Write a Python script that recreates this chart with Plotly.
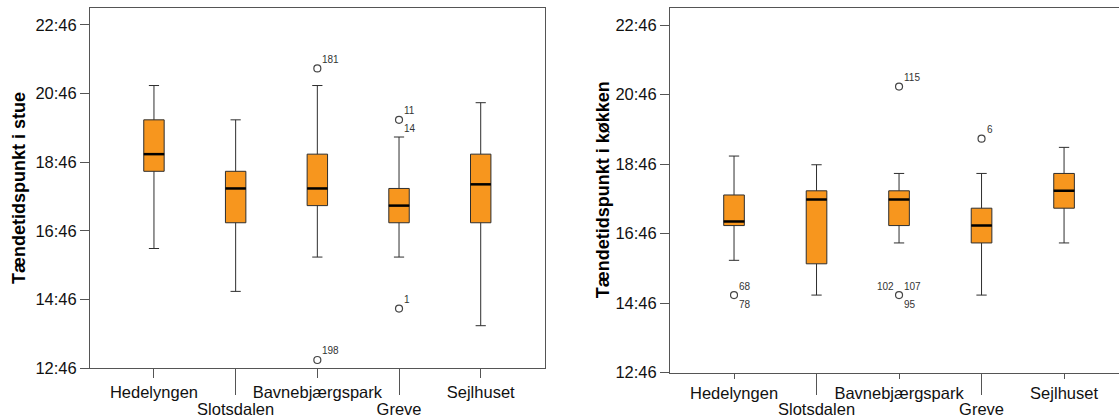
import plotly.graph_objects as go

# Lighting-up times (hours of day) per location, box statistics
categories = ["Hedelyngen", "Slotsdalen", "Bavnebjærgspark", "Greve", "Sejlhuset"]

# Living room ("stue")
stue_low = [16.25, 15.0, 16.0, 16.0, 14.0]
stue_q1 = [18.5, 17.0, 17.5, 17.0, 17.0]
stue_median = [19.0, 18.0, 18.0, 17.5, 18.12]
stue_q3 = [20.0, 18.5, 19.0, 18.0, 19.0]
stue_high = [21.0, 20.0, 21.0, 19.5, 20.5]
stue_out_cat = [2, 2, 3, 3]
stue_out_val = [21.5, 13.0, 20.0, 14.5]
stue_out_ids = [["181"], ["198"], ["11", "14"], ["1"]]
stue_out_pos = [["ur"], ["ur"], ["ur", "lr"], ["ur"]]

# Kitchen ("køkken")
kok_low = [16.0, 15.0, 16.5, 15.0, 16.5]
kok_q1 = [17.0, 15.9, 17.0, 16.5, 17.5]
kok_median = [17.12, 17.75, 17.75, 17.0, 18.0]
kok_q3 = [17.88, 18.0, 18.0, 17.5, 18.5]
kok_high = [19.0, 18.75, 18.5, 18.5, 19.25]
kok_out_cat = [0, 2, 2, 3]
kok_out_val = [15.0, 21.0, 15.0, 19.5]
kok_out_ids = [["68", "78"], ["115"], ["102", "107", "95"], ["6"]]
kok_out_pos = [["ur", "lr"], ["ur"], ["ul", "ur", "lr"], ["ur"]]

y_tick_labels = ["12:46", "14:46", "16:46", "18:46", "20:46", "22:46"]
y_tick_vals = [int(t[:2]) + int(t[3:]) / 60 for t in y_tick_labels]

FONT = "Liberation Sans, Arial, sans-serif"
BOX_FILL = "#F7961E"
BOX_LINE = "#2e2e2e"
AXIS_LINE = "#555555"
BOX_W = 0.25

fig = go.Figure()


def add_panel(xa, xa_low, ya, low, q1, med, q3, high, out_cat, out_val, out_ids, out_pos):
    xs = list(range(len(categories)))
    fig.add_trace(go.Box(
        x=xs, q1=q1, median=med, q3=q3, lowerfence=low, upperfence=high,
        width=BOX_W, whiskerwidth=0.5, fillcolor=BOX_FILL,
        line=dict(color=BOX_LINE, width=1), boxpoints=False,
        xaxis=xa, yaxis=ya, showlegend=False, hoverinfo="skip",
    ))
    # heavier black median bars
    mx, my = [], []
    for i, m in zip(xs, med):
        mx += [i - BOX_W / 2, i + BOX_W / 2, None]
        my += [m, m, None]
    fig.add_trace(go.Scatter(
        x=mx, y=my, mode="lines", line=dict(color="black", width=2.5),
        xaxis=xa, yaxis=ya, showlegend=False, hoverinfo="skip",
    ))
    fig.add_trace(go.Scatter(
        x=out_cat, y=out_val, mode="markers",
        marker=dict(symbol="circle-open", size=7, color="#444444", line=dict(width=1.2)),
        xaxis=xa, yaxis=ya, showlegend=False, hoverinfo="skip",
    ))
    # empty trace so the second-row category axis gets rendered
    fig.add_trace(go.Scatter(
        x=[None], y=[None], mode="markers", xaxis=xa_low, yaxis=ya,
        showlegend=False, hoverinfo="skip",
    ))
    shifts = {"ur": ("left", 3, 9), "lr": ("left", 3, -9), "ul": ("right", -3, 9)}
    for c, v, ids, poss in zip(out_cat, out_val, out_ids, out_pos):
        for lab, p in zip(ids, poss):
            anc, dx, dy = shifts[p]
            fig.add_annotation(
                x=c, y=v, xref=xa, yref=ya, text=lab, showarrow=False,
                xanchor=anc, yanchor="middle", xshift=dx, yshift=dy,
                font=dict(family=FONT, size=10, color="#333333"),
            )


add_panel("x", "x3", "y", stue_low, stue_q1, stue_median, stue_q3, stue_high,
          stue_out_cat, stue_out_val, stue_out_ids, stue_out_pos)
add_panel("x2", "x4", "y2", kok_low, kok_q1, kok_median, kok_q3, kok_high,
          kok_out_cat, kok_out_val, kok_out_ids, kok_out_pos)

W, H = 1119, 417
tick_font = dict(family=FONT, size=16.5, color="#111111")

upper_vals = [0, 2, 4]
lower_vals = [1, 3]


def x_axis(domain, rng, anchor, mirror, tlen):
    return dict(
        domain=domain, range=rng, anchor=anchor, automargin=False,
        tickmode="array", tickvals=upper_vals, ticktext=[categories[i] for i in upper_vals],
        ticks="outside", ticklen=tlen, tickcolor=AXIS_LINE, tickwidth=1,
        showline=True, linecolor=AXIS_LINE, linewidth=1, mirror=mirror,
        showgrid=False, zeroline=False, tickfont=tick_font,
    )


def x_axis_lower(domain, rng, anchor, over, tlen):
    return dict(
        domain=domain, range=rng, anchor=anchor, overlaying=over, side="bottom",
        automargin=False,
        tickmode="array", tickvals=lower_vals, ticktext=[categories[i] for i in lower_vals],
        ticks="outside", ticklen=tlen, tickcolor=AXIS_LINE, tickwidth=1,
        showline=False, showgrid=False, zeroline=False, tickfont=tick_font,
    )


def y_axis(domain, anchor, mirror):
    return dict(
        domain=domain, range=[y_tick_vals[0], 23.26], anchor=anchor, automargin=False,
        tickmode="array", tickvals=y_tick_vals, ticktext=y_tick_labels,
        ticks="outside", ticklen=9, tickcolor=AXIS_LINE, tickwidth=1,
        showline=True, linecolor=AXIS_LINE, linewidth=1, mirror=mirror,
        showgrid=False, zeroline=False, tickfont=tick_font,
    )


left_x = [90 / W, 545 / W]
left_y = [(H - 368) / H, (H - 8) / H]
right_x = [670 / W, 1.0]
right_y = [(H - 372.7) / H, (H - 8) / H]
left_rng = [-0.783, 4.787]
right_rng = [-0.776, 4.666]

fig.update_layout(
    width=W, height=H,
    margin=dict(l=0, r=0, t=0, b=0),
    paper_bgcolor="white", plot_bgcolor="white",
    font=dict(family=FONT),
    xaxis=x_axis(left_x, left_rng, "y", True, 9),
    xaxis3=x_axis_lower(left_x, left_rng, "y", "x", 26),
    yaxis=y_axis(left_y, "x", True),
    xaxis2=x_axis(right_x, right_rng, "y2", True, 5),
    xaxis4=x_axis_lower(right_x, right_rng, "y2", "x2", 21),
    yaxis2=y_axis(right_y, "x2", False),
)

title_font = dict(family=FONT, size=18, color="black")
fig.add_annotation(
    text="<b>Tændetidspunkt i stue</b>", xref="paper", yref="paper",
    x=19 / W, y=sum(left_y) / 2, textangle=-90, showarrow=False,
    xanchor="center", yanchor="middle", font=title_font,
)
fig.add_annotation(
    text="<b>Tændetidspunkt i køkken</b>", xref="paper", yref="paper",
    x=603 / W, y=sum(right_y) / 2, textangle=-90, showarrow=False,
    xanchor="center", yanchor="middle", font=title_font,
)

fig.write_html("out.html", config={"displayModeBar": False})
